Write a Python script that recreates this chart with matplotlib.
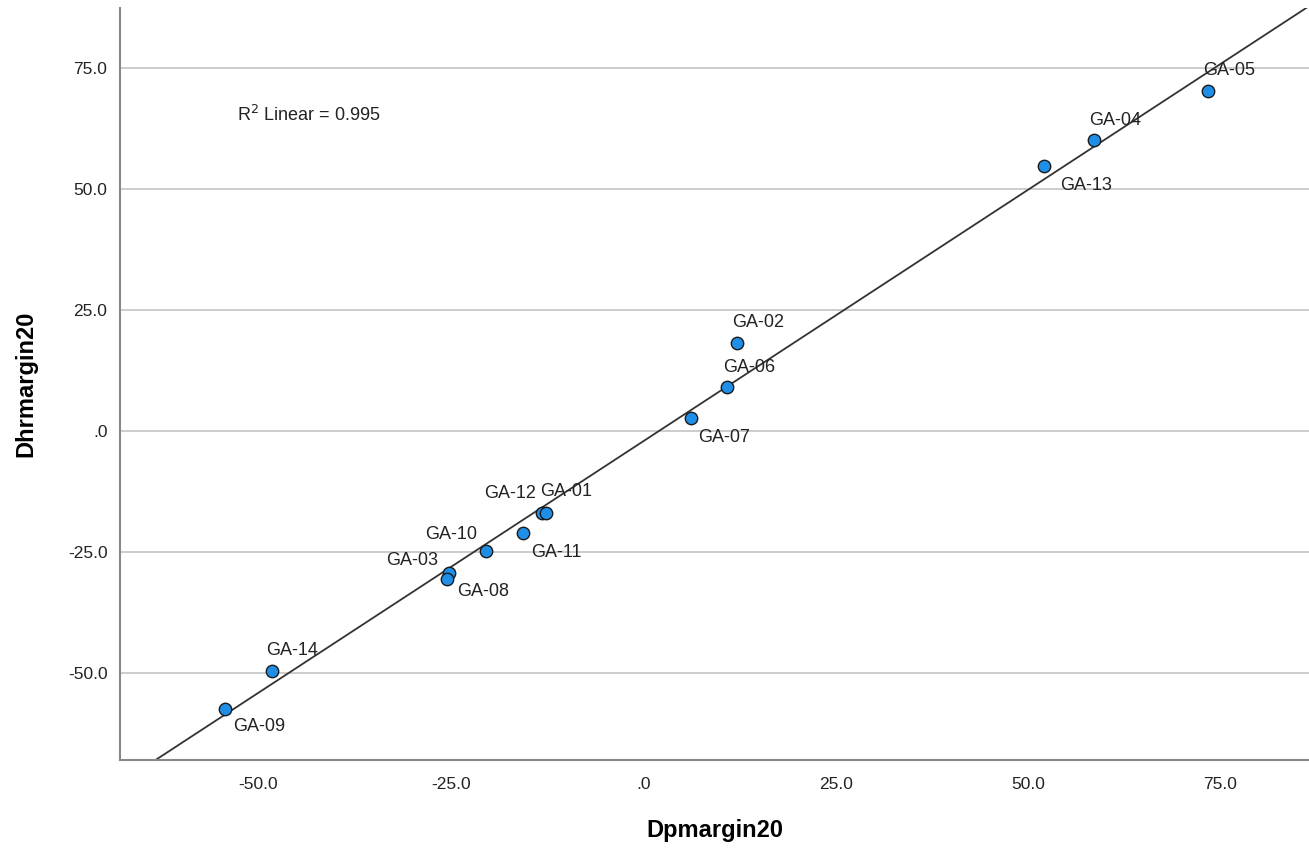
import numpy as np
import matplotlib
matplotlib.use('Agg')
import matplotlib.pyplot as plt

plt.rcParams['font.family'] = ['Liberation Sans', 'DejaVu Sans']

# data
labels = ['GA-05', 'GA-04', 'GA-13', 'GA-02', 'GA-06', 'GA-07', 'GA-12',
          'GA-01', 'GA-11', 'GA-10', 'GA-03', 'GA-08', 'GA-14', 'GA-09']
dp = [73.4, 58.6, 52.1, 12.2, 10.9, 6.2, -13.1,
      -12.6, -15.6, -20.5, -25.2, -25.5, -48.3, -54.3]
dh = [70.2, 60.1, 54.8, 18.2, 9.1, 2.7, -16.9,
      -16.9, -21.1, -24.8, -29.3, -30.6, -49.6, -57.4]
yticks = [-50, -25, 0, 25, 50, 75]
xticks = [-50, -25, 0, 25, 50, 75]

# label offsets in points (layout only)
offsets = {
    'GA-05': (15, 15), 'GA-04': (15, 14), 'GA-13': (30, -14),
    'GA-02': (15, 15), 'GA-06': (16, 14), 'GA-07': (24, -14),
    'GA-12': (-23, 14), 'GA-01': (14, 15), 'GA-11': (24, -14),
    'GA-10': (-25, 12), 'GA-03': (-27, 9), 'GA-08': (26, -9),
    'GA-14': (15, 15), 'GA-09': (24, -13),
}

fig = plt.figure(figsize=(13.09, 8.5), dpi=100)
ax = fig.add_axes([120 / 1309, 90 / 850, 1189 / 1309, 752 / 850])

xlim = (-68, 86.5)
ylim = (-68, 87.4)

for y in yticks:
    ax.axhline(y, color='#c8c8c8', lw=1.3, zorder=0)

# linear fit
x = np.array(dp)
y = np.array(dh)
k, b = np.polyfit(x, y, 1)
r2 = np.corrcoef(x, y)[0, 1] ** 2
xx = np.array(xlim)
ax.plot(xx, k * xx + b, color='#333333', lw=1.3, zorder=2)

ax.scatter(x, y, s=80, color='#1f8ee6', edgecolor='#1a1a1a', linewidth=1.0, zorder=3)

for lab, xi, yi in zip(labels, dp, dh):
    dx, dy = offsets[lab]
    ax.annotate(lab, (xi, yi), xytext=(dx, dy), textcoords='offset points',
                ha='center', va='center', fontsize=13, color='#222222', zorder=4)

ax.text(0.098, 0.858, f'R$^2$ Linear = {r2:.3f}', transform=ax.transAxes,
        fontsize=13, color='#222222', va='center', ha='left')

ax.set_xlim(*xlim)
ax.set_ylim(*ylim)
ax.set_xticks(xticks)
ax.set_yticks(yticks)
fmt = lambda v: '.0' if v == 0 else f'{v:.1f}'
ax.set_xticklabels([fmt(v) for v in xticks])
ax.set_yticklabels([fmt(v) for v in yticks])
ax.tick_params(length=0, labelsize=12.5, colors='#222222')
ax.tick_params(axis='y', pad=9)
ax.tick_params(axis='x', pad=12)

for side in ['top', 'right']:
    ax.spines[side].set_visible(False)
for side in ['left', 'bottom']:
    ax.spines[side].set_color('#888888')
    ax.spines[side].set_linewidth(1.5)

ax.set_xlabel('Dpmargin20', fontsize=17, fontweight='bold', labelpad=20)
ax.set_ylabel('Dhrmargin20', fontsize=17, fontweight='bold', labelpad=22)

fig.savefig('out.png', dpi=100)
